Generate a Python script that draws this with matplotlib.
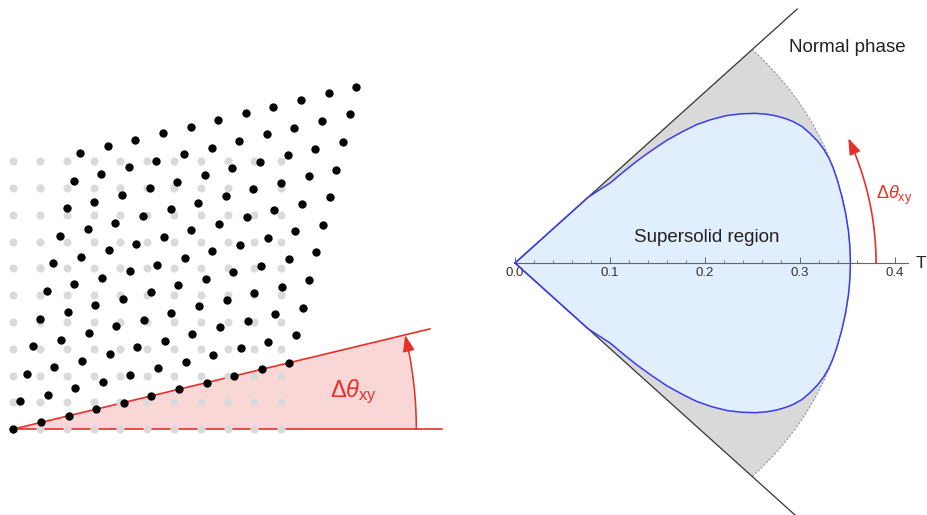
import numpy as np
import matplotlib.pyplot as plt
from matplotlib.patches import Wedge
from matplotlib.ticker import FixedLocator, FormatStrFormatter

plt.rcParams['font.family'] = ['Liberation Sans', 'DejaVu Sans']
plt.rcParams['mathtext.fontset'] = 'custom'
plt.rcParams['mathtext.rm'] = 'Liberation Sans'
plt.rcParams['mathtext.it'] = 'Liberation Sans:italic'

# left panel: square lattice (grey) and the sheared lattice (black), lattice units
n_sites = 11
a1 = (1.031, 0.248)
a2 = (0.250, 1.031)

# right panel: supersolid boundary, upper half (mirrored below), T and y
T_ss = [0.0, 0.077, 0.088, 0.100, 0.114, 0.128, 0.144, 0.160, 0.176, 0.191,
        0.207, 0.223, 0.238, 0.253, 0.265, 0.275, 0.285, 0.293, 0.302, 0.3106,
        0.3185, 0.3250, 0.3305, 0.3350, 0.3395, 0.3440, 0.3480, 0.3510, 0.3525,
        0.353]
y_ss = [0.0, 0.077, 0.085, 0.0935, 0.1065, 0.119, 0.1318, 0.1437, 0.1535, 0.1618,
        0.1680, 0.1725, 0.1745, 0.1750, 0.1740, 0.1720, 0.1688, 0.1653, 0.1597, 0.1515,
        0.1425, 0.1330, 0.1225, 0.1110, 0.0960, 0.0780, 0.0580, 0.0370, 0.0185,
        0.0]
T_c = 0.353          # edge of the normal phase
theta_max = 45.0     # opening of the wedge (deg)
line_end = 0.297
major_ticks = [0.0, 0.1, 0.2, 0.3, 0.4]
minor_ticks = [0.02, 0.04, 0.06, 0.08, 0.12, 0.14, 0.16, 0.18, 0.22, 0.24,
               0.26, 0.28, 0.32, 0.34, 0.36, 0.38]

red = '#e8302a'
pink = '#f9d7d7'

fig = plt.figure(figsize=(9.28, 5.15), dpi=100)

# ---- left panel ----
axL = fig.add_axes([0, 0, 465 / 928, 1])
axL.set_xlim(-0.497, 16.87)
axL.set_ylim(-3.21, 16.03)
axL.axis('off')

i, j = np.meshgrid(np.arange(n_sites), np.arange(n_sites))
axL.scatter(i.ravel(), j.ravel(), s=34, color='#dadada', lw=0, zorder=4)
bx = i * a1[0] + j * a2[0]
by = i * a1[1] + j * a2[1]
axL.scatter(bx.ravel(), by.ravel(), s=36, color='black', lw=0, zorder=5)

ang = np.degrees(np.arctan2(a1[1], a1[0]))
axL.add_patch(Wedge((0, 0), 15.0, 0, ang, fc=pink, lw=0, zorder=1))
axL.plot([0, 16 * np.cos(np.radians(ang))], [0, 16 * np.sin(np.radians(ang))],
         color=red, lw=1.2, zorder=3)
axL.plot([0, 16], [0, 0], color=red, lw=1.2, zorder=3)
t = np.radians(np.linspace(0, ang - 1.0, 50))
axL.plot(15.05 * np.cos(t), 15.05 * np.sin(t), color=red, lw=1.2, zorder=3)
tip = np.radians(ang)
back = np.radians(ang - 1.5)
axL.annotate('', xy=(15.05 * np.cos(tip), 15.05 * np.sin(tip)),
             xytext=(15.05 * np.cos(back), 15.05 * np.sin(back)),
             arrowprops=dict(arrowstyle='-|>,head_length=0.7,head_width=0.25',
                             color=red, lw=1.2, mutation_scale=14,
                             shrinkA=0, shrinkB=0), zorder=3)
axL.text(12.7, 1.38, r'$\Delta\theta_{\mathrm{xy}}$', color=red, fontsize=17,
         ha='center', va='center')

# ---- right panel ----
axR = fig.add_axes([470 / 928, 0, 458 / 928, 1])
axR.set_xlim(-0.0474, 0.4347)
axR.set_ylim(-0.2947, 0.3076)
axR.set_axisbelow(False)

axR.add_patch(Wedge((0, 0), T_c, -theta_max, theta_max, fc='#d9d9d9', lw=0, zorder=1))
xs = T_ss + T_ss[::-1]
ys = y_ss + [-v for v in y_ss[::-1]]
axR.fill(xs, ys, color='#e0eefd', lw=0, zorder=1.2)
axR.plot(xs, ys, color='#3c3cf0', lw=1.1, zorder=3)

t = np.radians(np.linspace(-theta_max, theta_max, 200))
axR.plot(T_c * np.cos(t), T_c * np.sin(t), color='#999999', lw=0.8,
         ls=(0, (2, 1.5)), zorder=1.3)
axR.plot([0, line_end], [0, line_end], color='#333333', lw=0.9, zorder=2.6)
axR.plot([0, line_end], [0, -line_end], color='#333333', lw=0.9, zorder=2.6)

# red angle arrow
arr_r = 0.38
arr_deg = 22.6
t = np.radians(np.linspace(0, arr_deg - 1.5, 50))
axR.plot(arr_r * np.cos(t), arr_r * np.sin(t), color=red, lw=1.2, zorder=3)
axR.annotate('', xy=(arr_r * np.cos(np.radians(arr_deg)), arr_r * np.sin(np.radians(arr_deg))),
             xytext=(arr_r * np.cos(np.radians(arr_deg - 2)), arr_r * np.sin(np.radians(arr_deg - 2))),
             arrowprops=dict(arrowstyle='-|>,head_length=0.7,head_width=0.25',
                             color=red, lw=1.2, mutation_scale=14,
                             shrinkA=0, shrinkB=0), zorder=3)
axR.text(0.399, 0.0795, r'$\Delta\theta_{\mathrm{xy}}$', color=red, fontsize=13,
         ha='center', va='center')

axR.text(0.35, 0.2526, 'Normal phase', fontsize=13.5, color='#222222',
         ha='center', va='center')
axR.text(0.2018, 0.0304, 'Supersolid region', fontsize=13.5, color='#222222',
         ha='center', va='center')
axR.text(0.427, 0.0, 'T', fontsize=12.5, color='#222222', ha='center', va='center')

for s in ['left', 'right', 'top']:
    axR.spines[s].set_visible(False)
axR.spines['bottom'].set_position(('data', 0))
axR.spines['bottom'].set_bounds(0, 0.414)
axR.spines['bottom'].set_color('#666666')
axR.spines['bottom'].set_linewidth(0.8)
axR.spines['bottom'].set_zorder(2.5)
axR.set_yticks([])
axR.xaxis.set_major_locator(FixedLocator(major_ticks))
axR.xaxis.set_minor_locator(FixedLocator(minor_ticks))
axR.xaxis.set_major_formatter(FormatStrFormatter('%.1f'))
axR.tick_params(axis='x', which='major', direction='in', length=4, width=0.7,
                color='#666666', labelsize=9.5, labelcolor='#333333', pad=3)
axR.tick_params(axis='x', which='minor', direction='in', length=2.5, width=0.6,
                color='#666666')
axR.patch.set_visible(False)

fig.savefig('out.png', dpi=100)
